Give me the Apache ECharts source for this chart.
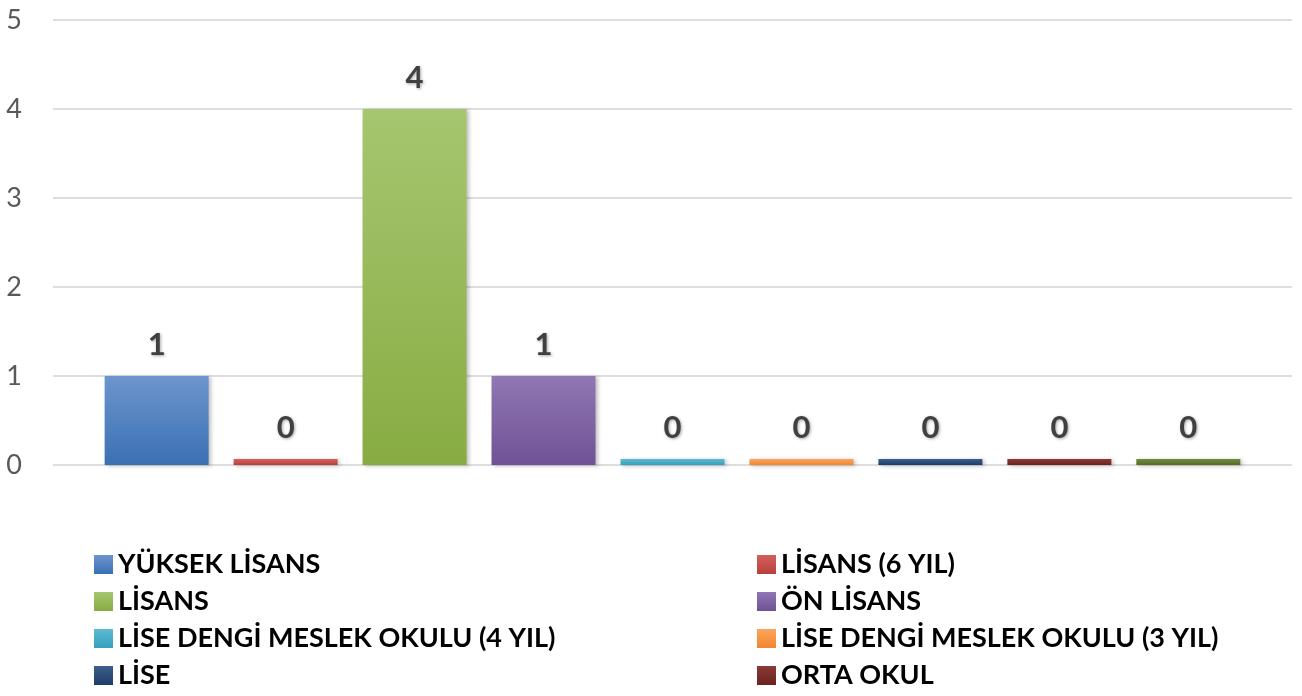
<!DOCTYPE html>
<html>
<head>
<meta charset="utf-8">
<script src="https://cdn.jsdelivr.net/npm/echarts@6/dist/echarts.min.js"></script>
<style>
  html, body { margin: 0; padding: 0; background: #fff; }
  #chart { width: 1302px; height: 696px; }
</style>
</head>
<body>
<div id="chart"></div>
<script>
// veriler
const seriesNames = [
  'YÜKSEK LİSANS', 'LİSANS (6 YIL)', 'LİSANS', 'ÖN LİSANS',
  'LİSE DENGİ MESLEK OKULU (4 YIL)', 'LİSE DENGİ MESLEK OKULU (3 YIL)',
  'LİSE', 'ORTA OKUL', 'İLKOKUL'
];
const seriesValues = [1, 0, 4, 1, 0, 0, 0, 0, 0];
const yTicks = [0, 1, 2, 3, 4, 5];

// renkler (üst, alt)
const barColors = [
  ['#6d95cd', '#3a70b3'],
  ['#d3605d', '#b8403c'],
  ['#a6c66f', '#88ac43'],
  ['#9177b3', '#6f5296'],
  ['#5fbad2', '#35a0bd'],
  ['#fba55e', '#f2862c'],
  ['#3e5f8a', '#1d3d68'],
  ['#8b3a37', '#6b2220'],
  ['#728a3f', '#566b2a']
];

const FONT = 'Lato, "Open Sans", sans-serif';

const chart = echarts.init(document.getElementById('chart'));

const series = seriesNames.map((name, i) => ({
  name,
  type: 'bar',
  data: [seriesValues[i]],
  barWidth: 104,
  barGap: '24%',
  barMinHeight: 6,
  itemStyle: {
    color: new echarts.graphic.LinearGradient(0, 0, 0, 1, [
      { offset: 0, color: barColors[i][0] },
      { offset: 1, color: barColors[i][1] }
    ]),
    shadowBlur: 4,
    shadowOffsetX: 2,
    shadowOffsetY: 1,
    shadowColor: 'rgba(0,0,0,0.25)'
  },
  label: {
    show: true,
    position: 'top',
    distance: 16,
    fontFamily: FONT,
    fontWeight: 'bold',
    fontSize: 31,
    color: '#404040',
    textShadowColor: 'rgba(0,0,0,0.35)',
    textShadowBlur: 3,
    textShadowOffsetX: 1,
    textShadowOffsetY: 1
  }
}));

const legendText = {
  fontFamily: FONT,
  fontWeight: 'bold',
  fontSize: 27,
  lineHeight: 26,
  color: '#000'
};

// iki sütunlu lejant
const legendCommon = {
  orient: 'vertical',
  top: 546,
  height: 200,
  icon: 'rect',
  itemWidth: 19,
  itemHeight: 19,
  itemGap: 10,
  textStyle: legendText
};

const option = {
  animation: false,
  grid: { left: 53, right: 10, top: 20, bottom: 231 },
  xAxis: {
    type: 'category',
    data: [''],
    axisLine: { show: false },
    axisTick: { show: false },
    axisLabel: { show: false }
  },
  yAxis: {
    type: 'value',
    min: yTicks[0],
    max: yTicks[yTicks.length - 1],
    interval: 1,
    axisLine: { show: false },
    axisTick: { show: false },
    axisLabel: {
      margin: 31,
      fontFamily: FONT,
      fontSize: 27,
      color: '#595959'
    },
    splitLine: { lineStyle: { color: '#dedede', width: 2 } }
  },
  legend: [
    Object.assign({}, legendCommon, {
      left: 89,
      data: seriesNames.filter((n, i) => i % 2 === 0 && i < 8)
    }),
    Object.assign({}, legendCommon, {
      left: 752,
      data: seriesNames.filter((n, i) => i % 2 === 1)
    })
  ],
  series
};

chart.setOption(option);
</script>
</body>
</html>
